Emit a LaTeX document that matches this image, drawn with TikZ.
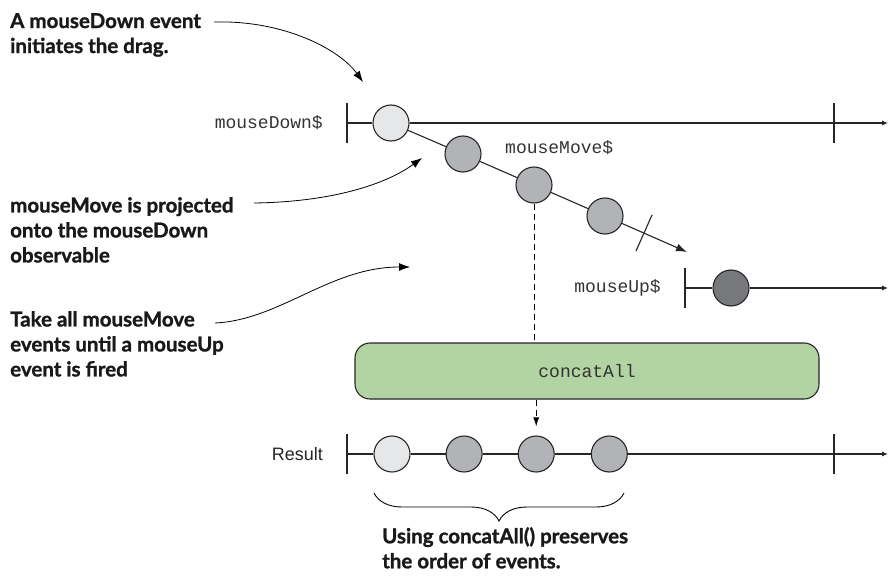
\documentclass[tikz,border=0pt]{standalone}
\usepackage{fontspec}
\setmainfont{Liberation Sans}
\setmonofont{Liberation Mono}
\newfontfamily\notefont[FakeBold=1.2]{Lato}
\usetikzlibrary{positioning, arrows.meta, calc, decorations.pathreplacing}
\definecolor{evlight}{HTML}{E6E7E8}
\definecolor{evmid}{HTML}{B1B3B6}
\definecolor{evdark}{HTML}{77787B}
\definecolor{opgreen}{HTML}{B2D3A2}

\tikzset{
  event/.style={circle, draw=black!85, line width=1.1pt, minimum size=36pt, inner sep=0pt},
  streamlabel/.style={font=\ttfamily\fontsize{18}{20}\selectfont, text=black!80, inner sep=0pt},
  note/.style={font=\notefont\bfseries\fontsize{20.5}{25}\selectfont, text=black!90, align=left,
               anchor=north west, inner sep=0pt},
  timeline/.style={line width=1.1pt, draw=black!85},
  tickmark/.style={line width=1.1pt, draw=black!85},
  flow/.style={line width=0.9pt, dash pattern=on 6pt off 4pt},
  pointer/.style={line width=0.8pt, -{Latex[length=11pt,width=8pt]}}
}

\begin{document}
\begin{tikzpicture}[x=1pt, y=-1pt, >=Stealth]
  \useasboundingbox (0,0) rectangle (888,580);

  % mouseDown$ stream
  \coordinate (downstart) at (347,123);
  \coordinate (downstop) at (834,123);
  \coordinate (downend) at (888,123);
  \node[streamlabel, anchor=east] (downlabel) at (323,123) {mouseDown\$};
  \node[event, fill=evlight] (d1) at (391,123) {};
  \draw[tickmark] ([yshift=20pt]downstart) -- ([yshift=-20pt]downstart);
  \draw[tickmark] ([yshift=20pt]downstop) -- ([yshift=-20pt]downstop);
  \draw[timeline] (downstart) -- (d1);
  \draw[timeline, -{Latex[length=6pt,width=5pt]}] (d1) -- (downend);

  % projected mouseMove$ events
  \node[event, fill=evmid] (m1) at (463,154) {};
  \node[event, fill=evmid] (m2) at (534,185) {};
  \node[event, fill=evmid] (m3) at (605,216) {};
  \coordinate (moveend) at (687,252);
  \coordinate (cut) at (644,233);
  \node[streamlabel, anchor=west] (movelabel) at (505,148) {mouseMove\$};
  \draw[timeline] (d1) -- (m1);
  \draw[timeline] (m1) -- (m2);
  \draw[timeline] (m2) -- (m3);
  \draw[timeline, -{Latex[length=11pt,width=8pt]}] (m3) -- (moveend);
  \draw[tickmark] ([shift={(-8,18)}]cut) -- ([shift={(8,-18)}]cut);

  % mouseUp$ stream
  \coordinate (upstart) at (685,288);
  \coordinate (upend) at (888,288);
  \node[streamlabel, anchor=east] (uplabel) at (661,288) {mouseUp\$};
  \node[event, fill=evdark] (u1) at (731,288) {};
  \draw[tickmark] ([yshift=20pt]upstart) -- ([yshift=-20pt]upstart);
  \draw[timeline] (upstart) -- (u1);
  \draw[timeline, -{Latex[length=6pt,width=5pt]}] (u1) -- (upend);

  % concatAll operator
  \node[draw=black!85, line width=1.1pt, fill=opgreen, rounded corners=15pt,
        minimum width=464pt, minimum height=56pt,
        font=\ttfamily\fontsize{18}{20}\selectfont, text=black!80] (concat) at (587,371) {concatAll};
  \draw[flow] (m2) -- (m2 |- concat.north);

  % Result stream
  \coordinate (resstart) at (347,454);
  \coordinate (resstop) at (834,454);
  \coordinate (resend) at (888,454);
  \node[font=\fontsize{18}{20}\selectfont, text=black!85, inner sep=0pt, anchor=east] (reslabel) at (323,454) {Result};
  \node[event, fill=evlight] (r1) at (392,454) {};
  \node[event, fill=evmid, right=35pt of r1] (r2) {};
  \node[event, fill=evmid, right=35pt of r2] (r3) {};
  \node[event, fill=evmid, right=36pt of r3] (r4) {};
  \draw[tickmark] ([yshift=20pt]resstart) -- ([yshift=-20pt]resstart);
  \draw[tickmark] ([yshift=20pt]resstop) -- ([yshift=-20pt]resstop);
  \draw[timeline] (resstart) -- (r1);
  \draw[timeline] (r1) -- (r2);
  \draw[timeline] (r2) -- (r3);
  \draw[timeline] (r3) -- (r4);
  \draw[timeline, -{Latex[length=6pt,width=5pt]}] (r4) -- (resend);
  \draw[flow, -{Latex[length=9pt,width=6pt]}] (concat.south -| r3) -- ([yshift=9pt]r3.north);

  % brace under the result events
  \draw[decorate, decoration={brace, mirror, amplitude=28pt}, line width=0.9pt]
    (374,493) coordinate (bracel) -- (624,493) coordinate (bracer);

  % notes
  \node[note] (downnote) at (10,13) {A mouseDown event\\initiates the drag.};
  \node[note] (movenote) at (10,197) {mouseMove is projected\\onto the mouseDown\\observable};
  \node[note] (takenote) at (10,311) {Take all mouseMove\\events until a mouseUp\\event is fired};
  \node[note] (ordernote) at (382,527) {Using concatAll() preserves\\the order of events.};

  % pointers
  \coordinate (downfrom) at (214,22);
  \coordinate (downto) at (363,82);
  \coordinate (movefrom) at (254,203);
  \coordinate (moveto) at (422,158);
  \coordinate (takefrom) at (215,323);
  \coordinate (taketo) at (410,267);
  \draw[pointer] (downfrom) .. controls (285,20) and (340,50) .. (downto);
  \draw[pointer] (movefrom) .. controls (330,202) and (385,185) .. (moveto);
  \draw[pointer] (takefrom) .. controls (280,320) and (330,267) .. (taketo);
\end{tikzpicture}
\end{document}
